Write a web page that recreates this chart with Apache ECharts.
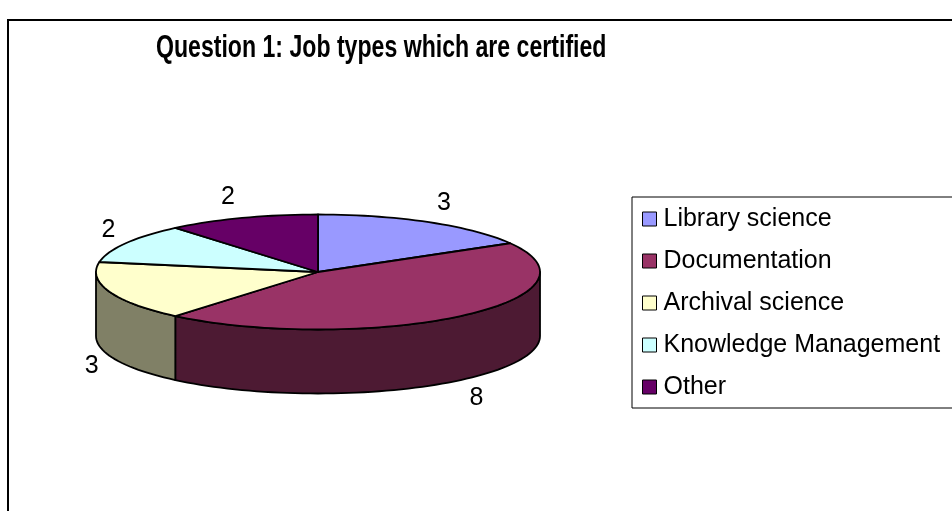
<!DOCTYPE html>
<html>
<head>
<meta charset="utf-8">
<script src="https://cdn.jsdelivr.net/npm/echarts@6/dist/echarts.min.js"></script>
<style>
    html, body { margin: 0; background: #fff; }
    #main { width: 952px; height: 511px; }
</style>
</head>
<body>
<div id="main"></div>
<script>
var categories = ['Library science', 'Documentation', 'Archival science', 'Knowledge Management', 'Other'];
var counts = [3, 8, 3, 2, 2];
var topColors = ['#9999ff', '#993366', '#ffffcc', '#ccffff', '#660066'];
var sideColors = ['#4d4d80', '#4d1a33', '#808066', '#668080', '#330033'];
var titleText = 'Question 1: Job types which are certified';

var FONT = '"Liberation Sans", Arial, sans-serif';

// layout of the tilted pie (ellipse + thickness)
var pie = { cx: 318, cy: 272, rx: 222, ry: 57.5, depth: 64 };
var total = counts.reduce((a, b) => a + b, 0);

function point(deg, dy) {
    var r = deg * Math.PI / 180;
    return [pie.cx + pie.rx * Math.sin(r), pie.cy - pie.ry * Math.cos(r) + (dy || 0)];
}

function arc(a0, a1, dy) {
    var pts = [];
    var n = Math.max(2, Math.ceil(Math.abs(a1 - a0) / 2));
    for (var k = 0; k <= n; k++) {
        pts.push(point(a0 + (a1 - a0) * k / n, dy));
    }
    return pts;
}

function renderSlice(index) {
    return function (params, api) {
        var before = counts.slice(0, index).reduce((a, b) => a + b, 0);
        var start = 360 * before / total;
        var end = start + 360 * api.value(0) / total;
        var children = [];
        var stroke = { stroke: '#000', lineWidth: 1.8, lineJoin: 'round' };

        // front wall: only the part of the slice between 90 and 270 deg shows
        var s0 = Math.max(start, 90), s1 = Math.min(end, 270);
        if (s1 > s0) {
            children.push({
                type: 'polygon',
                shape: { points: arc(s0, s1, 0).concat(arc(s1, s0, pie.depth)) },
                style: Object.assign({ fill: sideColors[index] }, stroke)
            });
        }
        // top face
        children.push({
            type: 'polygon',
            shape: { points: [[pie.cx, pie.cy]].concat(arc(start, end, 0)) },
            style: Object.assign({ fill: topColors[index] }, stroke)
        });

        // value label outside the slice
        var mid = (start + end) / 2;
        var r = mid * Math.PI / 180;
        var sx = Math.sin(r), cy = -Math.cos(r);
        var edge = point(mid, cy > 0 ? pie.depth : 0);
        children.push({
            type: 'text',
            style: {
                text: String(api.value(0)),
                x: edge[0] + 6 * sx + 12 * Math.sign(sx),
                y: edge[1] + 18 * cy + 4 * Math.sign(cy),
                fill: '#000',
                font: '25px ' + FONT,
                align: 'center',
                verticalAlign: 'middle'
            }
        });
        return { type: 'group', children: children };
    };
}

var myChart = echarts.init(document.getElementById('main'));

option = {
    backgroundColor: '#fff',
    animation: false,
    legend: {
        orient: 'vertical',
        left: 632,
        top: 197,
        padding: [8, 30, 7, 10],
        itemGap: 14,
        itemWidth: 14,
        itemHeight: 14,
        icon: 'rect',
        backgroundColor: '#fff',
        borderColor: '#000',
        borderWidth: 1,
        selectedMode: false,
        textStyle: {
            fontFamily: FONT,
            fontSize: 25,
            lineHeight: 28,
            color: '#000',
            padding: [0, 0, 0, 2]
        },
        data: categories.map((name, i) => ({
            name: name,
            itemStyle: { color: topColors[i], borderColor: '#000', borderWidth: 1 }
        }))
    },
    graphic: [{
        type: 'polyline',
        shape: { points: [[8, 511], [8, 20], [952, 20]] },
        style: { stroke: '#000', lineWidth: 2, fill: null }
    }, {
        // condensed bold title, as in the original
        type: 'text',
        x: 156,
        y: 48,
        scaleX: 0.745,
        style: {
            text: titleText,
            font: 'bold 31px ' + FONT,
            fill: '#000',
            verticalAlign: 'middle'
        }
    }],
    series: categories.map((name, i) => ({
        type: 'custom',
        name: name,
        coordinateSystem: 'none',
        silent: true,
        itemStyle: { color: topColors[i] },
        data: [counts[i]],
        renderItem: renderSlice(i)
    }))
};
myChart.setOption(option);
</script>
</body>
</html>
